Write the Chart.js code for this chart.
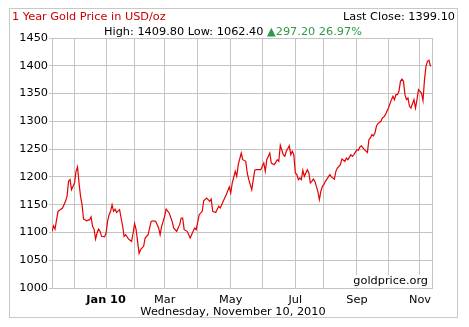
<!DOCTYPE html>
<html>
<head>
<meta charset="utf-8">
<script src="https://cdn.jsdelivr.net/npm/chart.js@4/dist/chart.umd.min.js"></script>
<style>
  html, body { margin: 0; padding: 0; background: #fff; }
  canvas { display: block; }
</style>
</head>
<body>
<canvas id="goldChart" width="469" height="327"></canvas>
<script>
// trading days counted from Nov 10, 2009, and the gold price on each
const days = [
  0, 1, 2, 4, 5, 7, 9, 10, 11, 12, 13, 15, 16, 17, 18, 19, 20, 21, 22, 23,
  25, 26, 27, 28, 29, 30, 31, 32, 33, 35, 36, 37, 38, 39, 40, 41, 42, 43, 45, 46,
  47, 48, 49, 51, 53, 54, 55, 56, 58, 59, 61, 62, 64, 66, 67, 69, 71, 72, 73, 75,
  76, 78, 80, 81, 83, 85, 86, 87, 88, 90, 92, 94, 95, 96, 98, 100, 101, 103, 105, 106,
  107, 109, 111, 112, 114, 116, 118, 119, 120, 122, 123, 124, 126, 127, 129, 130, 131, 133, 134, 135,
  136, 138, 139, 141, 142, 143, 145, 146, 148, 150, 151, 152, 154, 155, 156, 158, 159, 160, 161, 162,
  163, 164, 165, 166, 167, 168, 170, 171, 172, 173, 174, 175, 176, 177, 178, 179, 180, 181, 182, 184,
  185, 186, 188, 189, 190, 192, 193, 195, 196, 197, 199, 200, 201, 203, 204, 205, 206, 207, 208, 210,
  211, 212, 213, 214, 215, 216, 217, 219, 220, 221, 222, 223, 224, 226, 227, 228, 229, 230, 231, 232,
  233, 234, 235, 236, 237, 238, 239, 241, 242, 243, 244, 245, 246, 247, 248, 249, 250, 251, 252
];
const prices = [
  1101.9, 1112, 1106, 1138, 1140, 1144, 1156, 1165, 1192, 1195, 1177, 1189, 1210, 1218, 1189, 1165, 1150, 1124, 1123, 1121,
  1123, 1128, 1111, 1106, 1088, 1099, 1106, 1102, 1093, 1092, 1099, 1120, 1132, 1138, 1150, 1138, 1142, 1136, 1141, 1126,
  1112, 1093, 1096, 1088, 1084, 1099, 1116, 1105, 1062.4, 1069, 1075, 1090, 1096, 1120, 1121, 1120, 1108, 1096, 1111, 1129,
  1142, 1135, 1120, 1108, 1102, 1114, 1126, 1126, 1105, 1102, 1090, 1102, 1108, 1105, 1132, 1138, 1157, 1162, 1156, 1160,
  1138, 1136, 1147, 1144, 1156, 1168, 1182, 1171, 1189, 1210, 1201, 1222, 1243, 1231, 1228, 1207, 1195, 1177, 1195, 1212,
  1213, 1213, 1213, 1225, 1210, 1231, 1243, 1225, 1222, 1231, 1228, 1257, 1240, 1237, 1246, 1256, 1240, 1246, 1240, 1207,
  1204, 1195, 1198, 1195, 1212, 1201, 1213, 1207, 1189, 1192, 1196, 1192, 1183, 1174, 1159, 1174, 1183, 1186, 1192, 1200,
  1204, 1200, 1196, 1210, 1216, 1222, 1232, 1228, 1234, 1231, 1240, 1237, 1240, 1249, 1248, 1254, 1256, 1252, 1249, 1244,
  1267, 1270, 1276, 1274, 1279, 1291, 1296, 1300, 1306, 1308, 1312, 1318, 1324, 1339, 1345, 1339, 1348, 1348, 1354, 1372,
  1376, 1372, 1348, 1339, 1342, 1327, 1324, 1339, 1324, 1339, 1357, 1354, 1351, 1337, 1375, 1399, 1408, 1409.8, 1399.1
];

// first trading day of each month, and the labels shown under them
const monthTicks = [15, 36, 55, 75, 97, 119, 140, 162, 181, 203, 224, 245];
const monthLabels = ['', 'Jan 10', '', 'Mar', '', 'May', '', 'Jul', '', 'Sep', '', 'Nov'];
const yearTick = 36;

const lastClose = 1399.10;
const high = 1409.80;
const low = 1062.40;
const change = 297.20;
const changePct = 26.97;
const dateText = 'Wednesday, November 10, 2010';

const FONT = '"DejaVu Sans", Verdana, sans-serif';
const GRID = '#c4c4c4';

const labelFor = {};
monthTicks.forEach((d, i) => { labelFor[d] = monthLabels[i]; });

// header, footer, plot frame and watermark
const frame = {
  id: 'frame',
  beforeDatasetsDraw(chart) {
    const { ctx, chartArea: a } = chart;
    ctx.save();
    ctx.strokeStyle = GRID;
    ctx.lineWidth = 1;
    ctx.strokeRect(a.left + 0.5, a.top + 0.5, a.right - a.left, a.bottom - a.top);
    ctx.restore();
  },
  afterDraw(chart) {
    const { ctx, chartArea: a } = chart;
    ctx.save();
    ctx.strokeStyle = '#c8c8c8';
    ctx.lineWidth = 1;
    ctx.strokeRect(9.5, 8.5, 448, 309);

    ctx.font = '11.3px ' + FONT;
    ctx.textBaseline = 'alphabetic';

    ctx.fillStyle = '#cc0000';
    ctx.textAlign = 'left';
    ctx.fillText('1 Year Gold Price in USD/oz', 12, 20);

    ctx.fillStyle = '#000';
    ctx.textAlign = 'right';
    ctx.fillText('Last Close: ' + lastClose.toFixed(2), 455, 20);

    const part1 = 'High: ' + high.toFixed(2) + ' Low: ' + low.toFixed(2) + ' ';
    const part2 = '\u25B2' + change.toFixed(2) + ' ' + changePct.toFixed(2) + '%';
    const w1 = ctx.measureText(part1).width;
    const w2 = ctx.measureText(part2).width;
    let x = 233 - (w1 + w2) / 2;
    ctx.textAlign = 'left';
    ctx.fillStyle = '#000';
    ctx.fillText(part1, x, 34.5);
    ctx.fillStyle = '#2e9a48';
    ctx.fillText(part2, x + w1, 34.5);

    ctx.fillStyle = '#000';
    ctx.textAlign = 'center';
    ctx.fillText(dateText, 233, 315);

    const site = 'goldprice.org';
    const sw = ctx.measureText(site).width;
    ctx.fillStyle = '#fff';
    ctx.fillRect(a.right - sw - 5, a.bottom - 13, sw + 4.5, 12.5);
    ctx.fillStyle = '#000';
    ctx.textAlign = 'right';
    ctx.fillText(site, a.right - 4, a.bottom - 4);
    ctx.restore();
  }
};

new Chart(document.getElementById('goldChart'), {
  type: 'line',
  data: {
    datasets: [{
      data: days.map((d, i) => ({ x: d, y: prices[i] })),
      borderColor: '#e60000',
      borderWidth: 1.2,
      pointRadius: 0,
      tension: 0,
      fill: false
    }]
  },
  options: {
    responsive: false,
    animation: false,
    devicePixelRatio: 1,
    layout: { padding: { left: 0, top: 38, right: 37, bottom: 0 } },
    plugins: {
      legend: { display: false },
      tooltip: { enabled: false }
    },
    scales: {
      x: {
        type: 'linear',
        min: 0,
        max: 253,
        afterBuildTicks(scale) {
          scale.ticks = monthTicks.map(v => ({ value: v }));
        },
        afterFit(scale) { scale.height = 39; },
        grid: { color: GRID, drawTicks: false },
        border: { color: GRID },
        ticks: {
          autoSkip: false,
          maxRotation: 0,
          padding: 5,
          color: '#000',
          font: ctx => ({
            family: FONT,
            size: 11.3,
            weight: ctx.tick && ctx.tick.value === yearTick ? 'bold' : 'normal'
          }),
          callback: v => labelFor[v] || ''
        }
      },
      y: {
        min: 1000,
        max: 1450,
        afterFit(scale) { scale.width = 52; },
        grid: { color: GRID, tickLength: 3 },
        border: { color: GRID },
        ticks: {
          stepSize: 50,
          padding: 1,
          color: '#000',
          font: { family: FONT, size: 11.3 },
          callback: v => String(v)
        }
      }
    }
  },
  plugins: [frame]
});
</script>
</body>
</html>
